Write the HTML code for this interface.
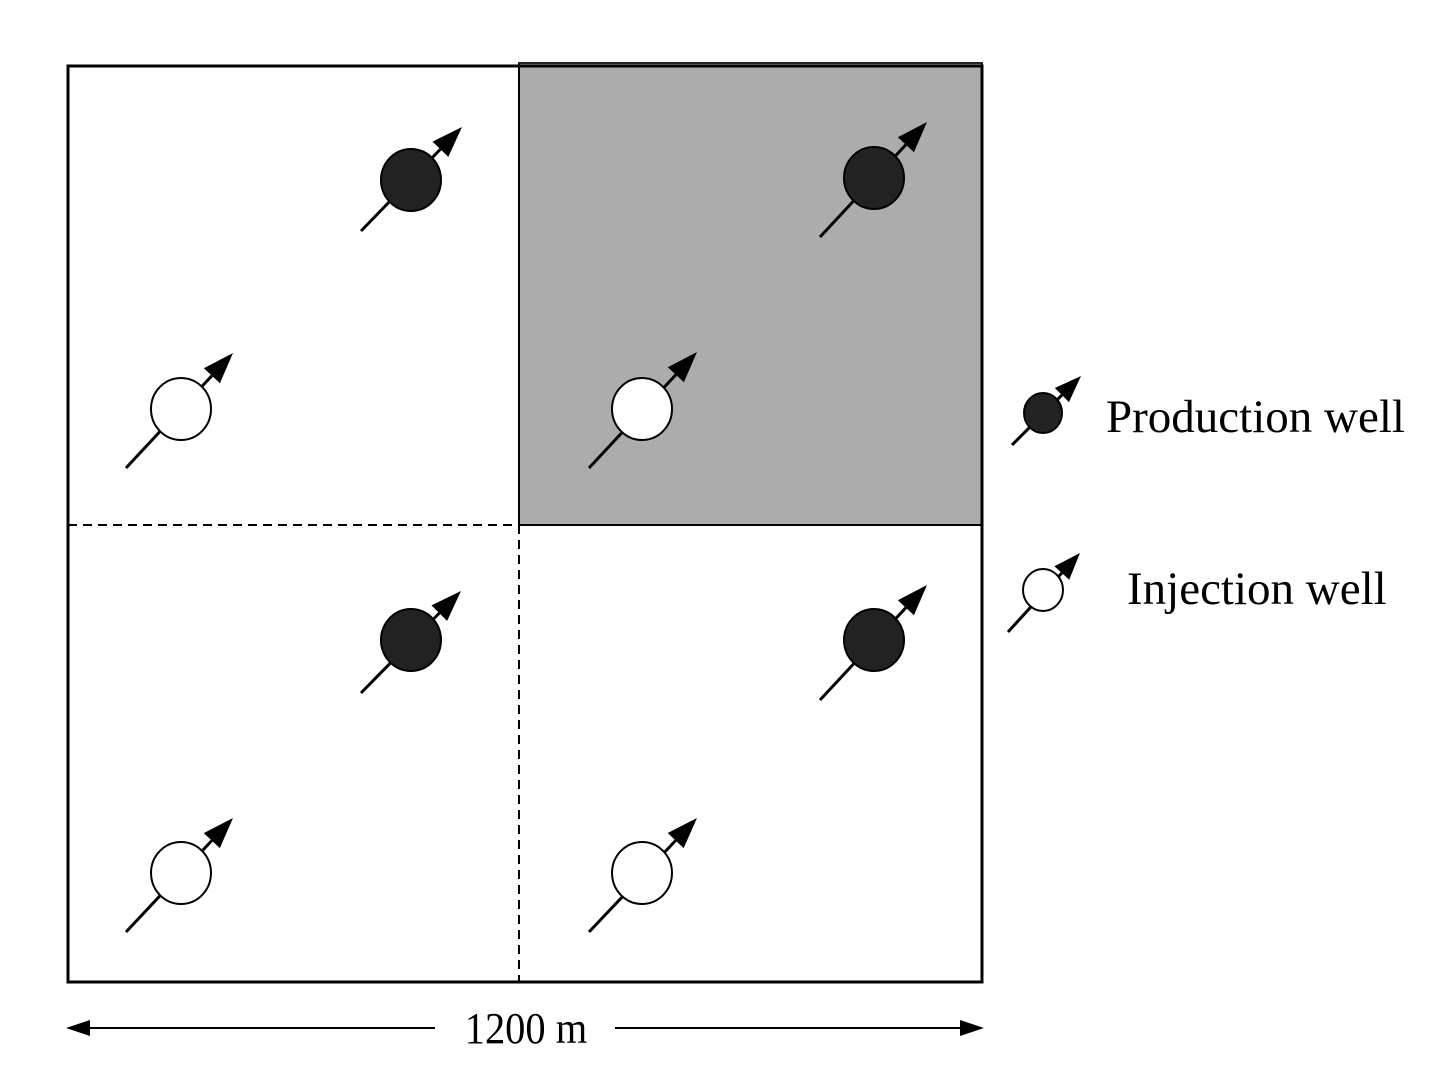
<!DOCTYPE html>
<html><head><meta charset="utf-8"><style>
html,body{margin:0;padding:0;background:#fff;width:1450px;height:1082px;overflow:hidden}
svg{display:block}
text{font-family:"Liberation Serif",serif;fill:#000}
</style></head><body>
<svg id="s" width="1450" height="1082" viewBox="0 0 1450 1082" xmlns="http://www.w3.org/2000/svg">
<rect x="519" y="63" width="463" height="462" fill="#acacac" stroke="#222" stroke-width="2"/>
<rect x="68" y="66" width="914" height="916" fill="none" stroke="#000" stroke-width="3"/>
<line x1="68" y1="525" x2="519" y2="525" stroke="#000" stroke-width="2" stroke-dasharray="9,6"/>
<line x1="519" y1="525" x2="519" y2="982" stroke="#000" stroke-width="2" stroke-dasharray="9,6"/>
<line x1="519" y1="66" x2="519" y2="525" stroke="#000" stroke-width="2"/>
<line x1="519" y1="525" x2="982" y2="525" stroke="#000" stroke-width="2"/>
<line x1="80" y1="1028" x2="435" y2="1028" stroke="#000" stroke-width="2"/>
<line x1="615" y1="1028" x2="970" y2="1028" stroke="#000" stroke-width="2"/>
<polygon points="66,1028 90,1020 90,1036" fill="#000"/>
<polygon points="984,1028 960,1020 960,1036" fill="#000"/>
<text x="526" y="1043" font-size="44" text-anchor="middle" transform="translate(526,0) scale(0.92,1) translate(-526,0)">1200 m</text>
<text x="1106" y="432" font-size="47">Production well</text>
<text x="1127" y="604" font-size="47">Injection well</text>
<g id="w"></g>
</svg>
<script>
var wells=[
[411,180,31,361,231,462,127,1],
[874,178,31,820,237,927,122,1],
[181,409,31,126,468,233,353,0],
[642,409,31,589,468,697,352,0],
[411,640,31,361,693,461,591,1],
[874,640,31,820,700,927,585,1],
[181,873,31,126,932,233,818,0],
[642,873,31,589,932,697,818,0],
[1043,413,20,1012,445,1081,376,1],
[1043,590,21,1008,632,1080,553,0]];
var g=document.getElementById('w'),h='';
wells.forEach(function(w){
 var cx=w[0],cy=w[1],r=w[2],x1=w[3],y1=w[4],x2=w[5],y2=w[6],f=w[7];
 var dx=x2-x1,dy=y2-y1,L=Math.sqrt(dx*dx+dy*dy),ux=dx/L,uy=dy/L;
 var hl=r>25?31:27,hw=r>25?11:10;
 var bx=x2-ux*hl,by=y2-uy*hl,px=-uy,py=ux;
 h+='<line x1="'+x1+'" y1="'+y1+'" x2="'+bx+'" y2="'+by+'" stroke="#000" stroke-width="3"/>';
 h+='<ellipse cx="'+cx+'" cy="'+cy+'" rx="'+(r-1)+'" ry="'+r+'" fill="'+(f?'#222':'#fff')+'" stroke="#000" stroke-width="2"/>';
 h+='<polygon points="'+x2+','+y2+' '+(bx+px*hw)+','+(by+py*hw)+' '+(bx-px*hw)+','+(by-py*hw)+'" fill="#000"/>';
});
g.innerHTML=h;
</script>
</body></html>
